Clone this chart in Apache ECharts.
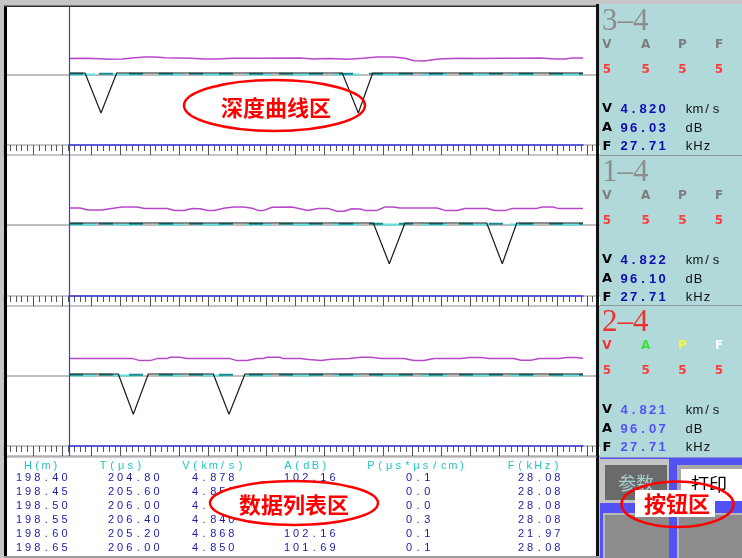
<!DOCTYPE html>
<html>
<head>
<meta charset="utf-8">
<script src="https://cdn.jsdelivr.net/npm/echarts@6/dist/echarts.min.js"></script>
<style>
html, body { margin: 0; padding: 0; background: #c6c6c6; }
#main { width: 742px; height: 558px; }
</style>
</head>
<body>
<div id="main"></div>
<script>
// 通道名称及测值
var channelNames = ['3–4', '1–4', '2–4'];
var channelV = [4.820, 4.822, 4.821];
var channelA = [96.03, 96.10, 96.07];
var channelF = [27.71, 27.71, 27.71];
var flagNames = ['V', 'A', 'P', 'F'];
var flagValues = [[5, 5, 5, 5], [5, 5, 5, 5], [5, 5, 5, 5]];
var unitNames = ['km/s', 'dB', 'kHz'];

// 波形(黑线) [采样位置, 幅值]
var waveTrace = [
    [[0, 0], [16, 0], [32, -40], [47.7, 0], [273.3, 0], [289.3, -40], [303.7, 0], [514, 0]],
    [[0, 0], [304.3, 0], [320.3, -40.7], [336, 0], [417.7, 0], [433.3, -40.7], [447.7, 0], [514, 0]],
    [[0, 0], [49.3, 0], [64.3, -40.3], [79.3, 0], [144.3, 0], [160, -40.3], [176, 0], [514, 0]]
];
// 紫线
var ampTrace = [
    [[0, 14.4], [16, 14.7], [31, 14.2], [41, 13.7], [53, 14], [66, 15.2], [76, 16.1], [86, 16.1], [96, 15.2],
     [121, 14.7], [136, 14], [149, 14], [163, 14.7], [191, 14.7], [231, 15], [244, 14], [261, 14.4], [278, 13.7],
     [294, 14.7], [308, 16], [324, 16], [336, 14.7], [345, 12.2], [355, 12], [369, 14.1], [391, 14.7], [411, 14.4],
     [431, 14.7], [451, 14.7], [471, 14.9], [487, 14.1], [496, 13.9], [503, 15], [514, 15]],
    [[0, 15], [11, 15], [19, 13], [33, 13], [41, 14.3], [53, 16], [68, 16], [76, 14.6], [98, 14.6], [106, 12.6],
     [115, 12.6], [123, 14.6], [131, 14.3], [139, 12.6], [145, 12.6], [156, 15], [165, 16], [175, 16], [183, 14.8],
     [189, 12.6], [195, 12.6], [203, 15.8], [223, 16], [231, 14.3], [239, 12.6], [249, 14.6], [259, 14.6],
     [268, 11.8], [275, 11.8], [283, 14.3], [291, 14], [296, 12.6], [308, 12.6], [316, 16], [324, 16], [331, 15],
     [368, 15], [376, 12.6], [388, 12.6], [396, 14.6], [418, 14.6], [426, 12.6], [437, 12.6], [443, 14.6],
     [468, 14.6], [473, 16], [484, 16], [489, 14.6], [514, 14.6]],
    [[0, 15.4], [64, 15.4], [71, 13.4], [81, 13.4], [88, 15.4], [98, 15.4], [101, 16.7], [111, 16.7], [118, 15.4],
     [161, 15.4], [168, 13.4], [178, 13.4], [188, 15.4], [194, 15.4], [198, 16.7], [211, 16.7], [214, 15.4],
     [231, 15.4], [240, 14.4], [252, 13.4], [262, 14.8], [280, 15.4], [292, 16.7], [302, 16.7], [312, 15.4],
     [335, 15.4], [345, 13.6], [355, 13.6], [365, 15.4], [392, 15.4], [400, 16.5], [412, 16.5], [420, 15.4],
     [445, 15.4], [452, 13.8], [462, 13.8], [470, 15.4], [490, 15.4], [498, 16.4], [506, 16.4], [514, 15.8]]
];
// 青线、深青线
var cyanTrace = [[[0, -1.5], [514, -1.5]], [[0, -1.5], [514, -1.5]], [[0, -1.5], [514, -1.5]]];
var tealTrace = [[[0, -0.8], [514, -0.8]], [[0, -0.8], [514, -0.8]], [[0, -0.8], [514, -0.8]]];

// 数据列表
var tableHeaders = ['H(m)', 'T(μs)', 'V(km/s)', 'A(dB)', 'P(μs*μs/cm)', 'F(kHz)'];
var colDepth = [198.40, 198.45, 198.50, 198.55, 198.60, 198.65];
var colTime = [204.80, 205.60, 206.00, 206.40, 205.20, 206.00];
var colVel = [4.878, 4.859, 4.850, 4.840, 4.868, 4.850];
var colAmp = [102.16, 102.16, 102.16, 102.16, 102.16, 101.69];
var colPsd = [0.1, 0.0, 0.0, 0.3, 0.1, 0.1];
var colFreq = [28.08, 28.08, 28.08, 28.08, 21.97, 28.08];

var chart = echarts.init(document.getElementById('main'));

// 三个曲线区的位置
var panels = [
    {top: 7, height: 138, rulerTop: 145},
    {top: 157, height: 139, rulerTop: 296},
    {top: 308, height: 138, rulerTop: 446}
];
var tick = 29.13;
var blue = '#3a3ae0';

function txt(str, x, y, font, color, z, align) {
    return {
        type: 'text', z: z || 102, silent: true,
        style: {
            text: str, x: x, y: y, font: font, fill: color,
            align: align || 'center', verticalAlign: 'middle',
            textAlign: align || 'center', textVerticalAlign: 'middle'
        }
    };
}
// 字符等距排开
function spaced(str, left, y, pitch, font, color, z) {
    var out = [];
    for (var i = 0; i < str.length; i++) {
        if (str[i] === ' ') continue;
        out.push(txt(str[i], left + i * pitch + 3, y, font, color, z));
    }
    return out;
}
function rect(x, y, w, h, fill, z) {
    return {type: 'rect', z: z, silent: true, shape: {x: x, y: y, width: w, height: h}, style: {fill: fill}};
}
function line(x1, y1, x2, y2, color, w, z) {
    return {type: 'line', z: z, silent: true, shape: {x1: x1, y1: y1, x2: x2, y2: y2}, style: {stroke: color, lineWidth: w}};
}

var grids = [], xAxes = [], yAxes = [], series = [];
panels.forEach(function (p, k) {
    grids.push({left: 69, width: 514, top: p.top, height: p.height});
    xAxes.push({
        gridIndex: k, type: 'value', min: 0, max: 514, z: 5,
        axisLine: {onZero: false, lineStyle: {color: blue, width: 1.5}},
        axisTick: {show: false}, axisLabel: {show: false}, splitLine: {show: false}
    });
    yAxes.push({gridIndex: k, type: 'value', min: -(p.height - 66), max: 66, show: false});
    var common = {type: 'line', xAxisIndex: k, yAxisIndex: k, symbol: 'none', silent: true, animation: false};
    series.push(Object.assign({data: cyanTrace[k], lineStyle: {color: '#5ee2e2', width: 2, type: [26, 18]}}, common));
    series.push(Object.assign({data: tealTrace[k], lineStyle: {color: '#168c8c', width: 2, type: [14, 16]}}, common));
    series.push(Object.assign({data: ampTrace[k], lineStyle: {color: '#b648c8', width: 1.5}}, common));
    series.push(Object.assign({data: waveTrace[k], lineStyle: {color: '#1a1a1a', width: 1.2}}, common));
});
// 刻度尺
panels.forEach(function (p, k) {
    var gi = grids.length;
    grids.push({
        left: 33.3 - tick, width: tick * 21, top: p.rulerTop, height: 10,
        show: true, backgroundColor: '#fff', borderColor: '#8c8c8c', borderWidth: 1
    });
    xAxes.push({
        gridIndex: gi, type: 'value', min: 0, max: 21, interval: 1, position: 'top',
        axisLine: {show: false, onZero: false},
        axisTick: {show: true, inside: true, length: 10, lineStyle: {color: '#555'}},
        minorTick: {show: true, splitNumber: 5, length: 6, lineStyle: {color: '#555'}},
        axisLabel: {show: false}, splitLine: {show: false}
    });
    yAxes.push({gridIndex: gi, type: 'value', min: 0, max: 1, show: false});
});

var g = [];
// 背景
g.push(rect(0, 0, 742, 558, '#c6c6c6', -10));
g.push(rect(7, 7, 591, 549, '#ffffff', -9));
panels.forEach(function (p) {
    g.push(line(7, p.top + 68, 600, p.top + 68, '#a8a8a8', 1.5, 1));
});
g.push(line(69.5, 7, 69.5, 456, blue, 1.2, 50));

// 右侧信息区
g.push(rect(600, 4, 142, 453, '#b2d9d9', 100));
g.push(line(600, 155.5, 742, 155.5, '#8a9a9a', 1, 101));
g.push(line(600, 305.5, 742, 305.5, '#8a9a9a', 1, 101));
var flagX = [607, 645.7, 682.3, 719];
var flagColors = [['#7c7c7c', '#7c7c7c', '#7c7c7c', '#7c7c7c'],
                  ['#7c7c7c', '#7c7c7c', '#7c7c7c', '#7c7c7c'],
                  ['#ff2a2a', '#3ce03c', '#f4f43c', '#ffffff']];
var valueColors = ['#0c0cb4', '#0c0cb4', '#5050ff'];
var offs = [0, 151, 301];
channelNames.forEach(function (name, k) {
    var dy = offs[k];
    g.push(txt(name, 602, 21.5 + dy, '31px "Liberation Serif"', k === 2 ? '#f03030' : '#8c8c8c', 102, 'left'));
    flagNames.forEach(function (f, j) {
        g.push(txt(f, flagX[j], 45 + dy, 'bold 12px "DejaVu Sans"', flagColors[k][j]));
        g.push(txt(String(flagValues[k][j]), flagX[j], 70 + dy, 'bold 12px "DejaVu Sans"', '#ff3c3c'));
    });
    var rows = [['V', channelV[k].toFixed(3), 109], ['A', channelA[k].toFixed(2), 128], ['F', channelF[k].toFixed(2), 146.5]];
    rows.forEach(function (r, j) {
        g.push(txt(r[0], 607, r[2] + dy, 'bold 13px "DejaVu Sans"', '#000'));
        g = g.concat(spaced(r[1], 621, r[2] + dy, 9.5, 'bold 13px "Liberation Sans"', valueColors[k], 102));
        g = g.concat(spaced(unitNames[j], 686, r[2] + dy, 9, '13px "Liberation Sans"', '#111', 102));
    });
});

// 边框
g.push(rect(4, 6, 3, 552, '#000', 101));
g.push(rect(4, 5.5, 594, 1.5, '#303030', 101));
g.push(rect(596, 4, 3, 554, '#111', 101));
g.push(rect(4, 556, 596, 2, '#9a9a9a', 101));
g.push(line(7, 457, 597, 457, '#9a9a9a', 1, 101));

// 数据列表
var headLeft = [25, 100, 183, 285, 368, 508];
var colLeft = [16, 108, 192, 284, 406, 518];
var columns = [[colDepth, 2], [colTime, 2], [colVel, 3], [colAmp, 2], [colPsd, 1], [colFreq, 2]];
var rowY = [478.3, 492.3, 506, 520, 534, 547.7];
tableHeaders.forEach(function (h, c) {
    g = g.concat(spaced(h, headLeft[c], 466, 9.1, '11px "Liberation Sans"', '#22c4c4', 5));
});
columns.forEach(function (col, c) {
    col[0].forEach(function (v, r) {
        g = g.concat(spaced(v.toFixed(col[1]), colLeft[c], rowY[r], 9.1, '11px "Liberation Sans"', '#1c1ca8', 5));
    });
});

// 按钮区
g.push(rect(600, 457.5, 142, 100.5, '#5252f2', 100));
g.push(rect(600, 459, 69, 44, '#c4c4c4', 101));
g.push(rect(605, 465, 62, 35, '#6a6a6a', 102));
g.push(txt('参数', 636, 483, '18px "Noto Sans CJK SC"', '#a8cece', 103));
g.push(rect(677, 465, 65, 36, '#a8a8a8', 101));
g.push(rect(681, 469, 61, 32, '#ffffff', 102));
g.push(txt('打印', 709, 484, '18px "Noto Sans CJK SC"', '#000', 103));
g.push(rect(603, 513, 66, 45, '#b8b8b8', 101));
g.push(rect(605, 515, 64, 43, '#8c8c8c', 102));
g.push(rect(677, 513, 65, 45, '#b8b8b8', 101));
g.push(rect(679, 515, 63, 43, '#8c8c8c', 102));

// 标注
g.push({type: 'ellipse', z: 110, silent: true, shape: {cx: 274.5, cy: 105.5, rx: 90.5, ry: 25.5},
        style: {fill: 'none', stroke: '#ff0000', lineWidth: 2.5}});
g.push(txt('深度曲线区', 276, 108, 'bold 22px "Noto Sans CJK SC"', '#ff0000', 111));
g.push({type: 'ellipse', z: 110, silent: true, shape: {cx: 294, cy: 503, rx: 84, ry: 22},
        style: {fill: '#ffffff', stroke: '#ff0000', lineWidth: 2.5}});
g.push(txt('数据列表区', 294, 505, 'bold 22px "Noto Sans CJK SC"', '#ff0000', 111));
g.push({type: 'ellipse', z: 110, silent: true, shape: {cx: 677.5, cy: 504.3, rx: 56, ry: 22.7},
        style: {fill: 'none', stroke: '#ff0000', lineWidth: 2.5}});
g.push(rect(635, 490, 80, 27, '#ffffff', 110));
g.push(txt('按钮区', 677, 503.5, 'bold 22px "Noto Sans CJK SC"', '#ff0000', 111));

chart.setOption({
    animation: false,
    grid: grids,
    xAxis: xAxes,
    yAxis: yAxes,
    series: series,
    graphic: {elements: g}
});
</script>
</body>
</html>
